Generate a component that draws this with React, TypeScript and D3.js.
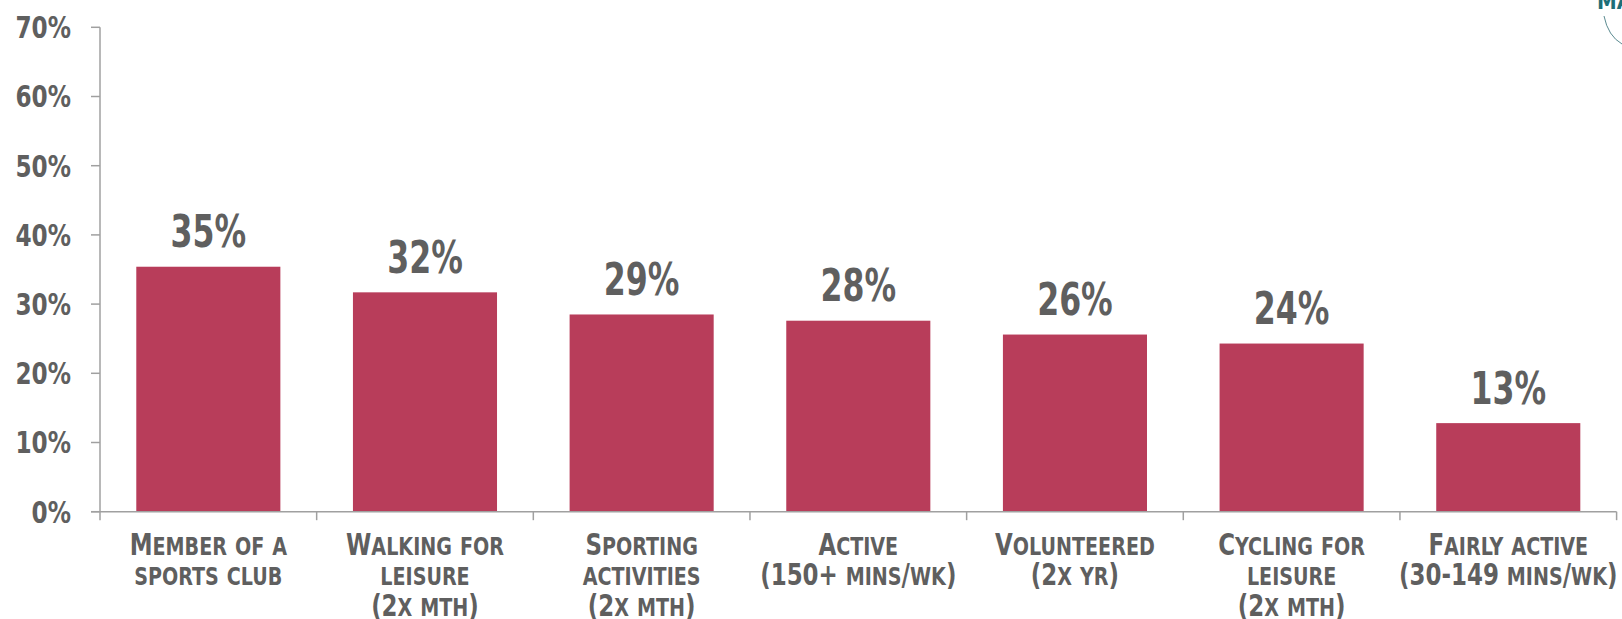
import React from "react";
import * as d3 from "d3";

const categories: string[][] = [
  ["Member of a", "sports club"],
  ["Walking for", "leisure", "(2x mth)"],
  ["Sporting", "activities", "(2x mth)"],
  ["Active", "(150+ mins/wk)"],
  ["Volunteered", "(2x yr)"],
  ["Cycling for", "leisure", "(2x mth)"],
  ["Fairly active", "(30-149 mins/wk)"],
];
const values: number[] = [35.4, 31.7, 28.5, 27.6, 25.6, 24.3, 12.8];
const valueLabels: string[] = ["35%", "32%", "29%", "28%", "26%", "24%", "13%"];
const yTicks: number[] = [0, 10, 20, 30, 40, 50, 60, 70];

const W = 1622;
const H = 619;
const FONT = "'DejaVu Sans Condensed', 'DejaVu Sans', sans-serif";
const TEXT = "#5f5f5f";
const AXIS = "#a0a0a0";
const BAR = "#b83d5a";

function smallCaps(s: string, big: number, small: number) {
  const runs: { t: string; lower: boolean }[] = [];
  for (const ch of s) {
    const lower = ch !== ch.toUpperCase() && ch === ch.toLowerCase();
    const last = runs[runs.length - 1];
    if (last && last.lower === lower) last.t += ch;
    else runs.push({ t: ch, lower });
  }
  return runs.map((r, i) => (
    <tspan key={i} fontSize={r.lower ? small : big}>
      {r.lower ? r.t.toUpperCase() : r.t}
    </tspan>
  ));
}

export default function App() {
  const keys = categories.map((c) => c.join(" "));
  const x = d3
    .scaleBand<string>()
    .domain(keys)
    .range([100, 1616.6])
    .paddingInner(0.335)
    .paddingOuter(0.1675);
  const y = d3.scaleLinear().domain([0, 70]).range([511.7, 27.3]);
  const step = x.step();
  const boundaries = d3.range(keys.length + 1).map((i) => 100 + i * step);

  return (
    <svg
      width={W}
      height={H}
      style={{ position: "absolute", left: 0, top: 0, background: "#fff" }}
      fontFamily={FONT}
    >
      {/* bars */}
      {values.map((v, i) => (
        <rect
          key={i}
          x={x(keys[i])!}
          y={y(v)}
          width={x.bandwidth()}
          height={y(0) - y(v)}
          fill={BAR}
        />
      ))}
      {/* y axis */}
      <line x1={100} x2={100} y1={y(70)} y2={y(0)} stroke={AXIS} strokeWidth={1.5} />
      {yTicks.map((t) => (
        <g key={t}>
          <line x1={91} x2={100} y1={y(t)} y2={y(t)} stroke={AXIS} strokeWidth={1.5} />
          <g transform={`translate(71,${y(t)}) scale(0.86,1)`}>
            <text
              dy="0.36em"
              textAnchor="end"
              fontSize={30}
              fontWeight="bold"
              fill={TEXT}
            >
              {t}%
            </text>
          </g>
        </g>
      ))}
      {/* x axis */}
      <line x1={91} x2={boundaries[boundaries.length - 1]} y1={y(0)} y2={y(0)} stroke={AXIS} strokeWidth={1.5} />
      {boundaries.map((bx, i) => (
        <line key={i} x1={bx} x2={bx} y1={y(0)} y2={y(0) + 8.5} stroke={AXIS} strokeWidth={1.5} />
      ))}
      {/* value labels */}
      {values.map((v, i) => (
        <g key={i} transform={`translate(${x(keys[i])! + x.bandwidth() / 2},${y(v) - 19.5}) scale(0.78,1)`}>
          <text textAnchor="middle" fontSize={45} fontWeight="bold" fill={TEXT}>
            {valueLabels[i]}
          </text>
        </g>
      ))}
      {/* category labels */}
      {categories.map((lines, i) => (
        <g key={i} transform={`translate(${x(keys[i])! + x.bandwidth() / 2},0) scale(0.85,1)`}>
          <text textAnchor="middle" fontWeight="bold" fill={TEXT}>
            {lines.map((ln, j) => (
              <tspan key={j} x={0} y={555 + j * 30.5}>
                {smallCaps(ln, 30, 25)}
              </tspan>
            ))}
          </text>
        </g>
      ))}
      {/* partial logo at top right */}
      <g>
        <text x={1597} y={9} fontSize={22} fontWeight="bold" fill="#1e6e78">
          MA
        </text>
        <path d="M1604,16 Q1608,36 1622,44" fill="none" stroke="#5a8a90" strokeWidth={1} />
      </g>
    </svg>
  );
}
